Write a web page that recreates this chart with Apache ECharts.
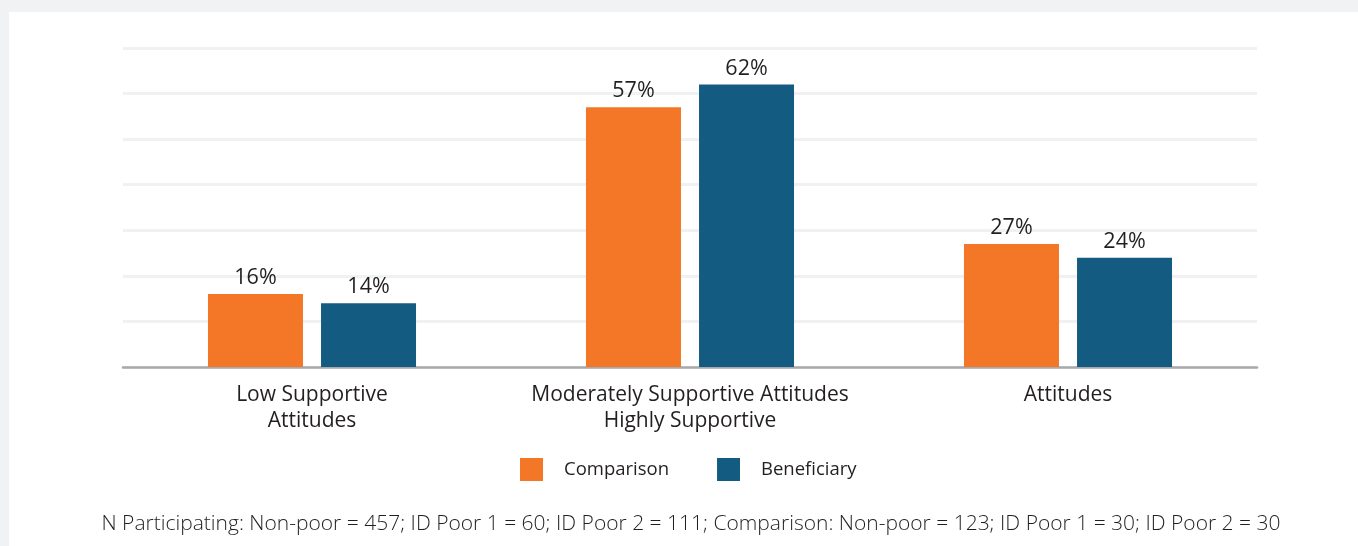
<!DOCTYPE html>
<html><head><meta charset="utf-8">
<script src="https://cdn.jsdelivr.net/npm/echarts@6/dist/echarts.min.js"></script>
<style>html,body{margin:0;padding:0;background:#f1f2f4;}#c{width:1358px;height:546px;}</style>
</head><body><div id="c"></div>
<script>
const categories = ['Low Supportive\nAttitudes', 'Moderately Supportive Attitudes\nHighly Supportive', 'Attitudes'];
const comparison = [16, 57, 27];
const beneficiary = [14, 62, 24];
const seriesNames = ['Comparison', 'Beneficiary'];
const footnote = 'N Participating: Non-poor = 457; ID Poor 1 = 60; ID Poor 2 = 111; Comparison: Non-poor = 123; ID Poor 1 = 30; ID Poor 2 = 30';

const FONT = '"Open Sans", "Noto Sans", sans-serif';
const chart = echarts.init(document.getElementById('c'));
const lbl = {show: true, position: 'top', distance: 5, formatter: '{c}%', color: '#231f20', fontSize: 21.5, fontFamily: FONT};
chart.setOption({
  backgroundColor: '#f1f2f4',
  animation: false,
  graphic: [
    {type: 'rect', left: 9, top: 12, shape: {width: 1349, height: 534}, style: {fill: '#ffffff'}, z: -10},
    {type: 'text', x: 691, y: 524, style: {text: footnote, fill: '#231f20', font: '300 21px ' + FONT, textAlign: 'center', textVerticalAlign: 'middle'}}
  ],
  grid: {left: 123, right: 101, top: 48, bottom: 179},
  legend: {
    data: seriesNames, left: 520, top: 458, padding: 0, itemWidth: 23, itemHeight: 23, itemGap: 48,
    icon: 'rect',
    textStyle: {color: '#231f20', fontSize: 18.5, fontFamily: FONT, padding: [0, 0, 0, 16]}
  },
  xAxis: {
    type: 'category', data: categories,
    axisLine: {lineStyle: {color: '#a7a9ac', width: 2.5}},
    axisTick: {show: false},
    axisLabel: {color: '#231f20', fontSize: 21, fontFamily: FONT, margin: 15, lineHeight: 26, interval: 0}
  },
  yAxis: {
    type: 'value', min: 0, max: 70, interval: 10,
    axisLabel: {show: false}, axisLine: {show: false}, axisTick: {show: false},
    splitLine: {lineStyle: {color: '#f0f1f2', width: 3}}
  },
  series: [
    {name: seriesNames[0], type: 'bar', data: comparison, barWidth: 95, barGap: '19%', itemStyle: {color: '#f37726'}, label: lbl},
    {name: seriesNames[1], type: 'bar', data: beneficiary, barWidth: 95, itemStyle: {color: '#145b82'}, label: lbl}
  ]
});
</script></body></html>
